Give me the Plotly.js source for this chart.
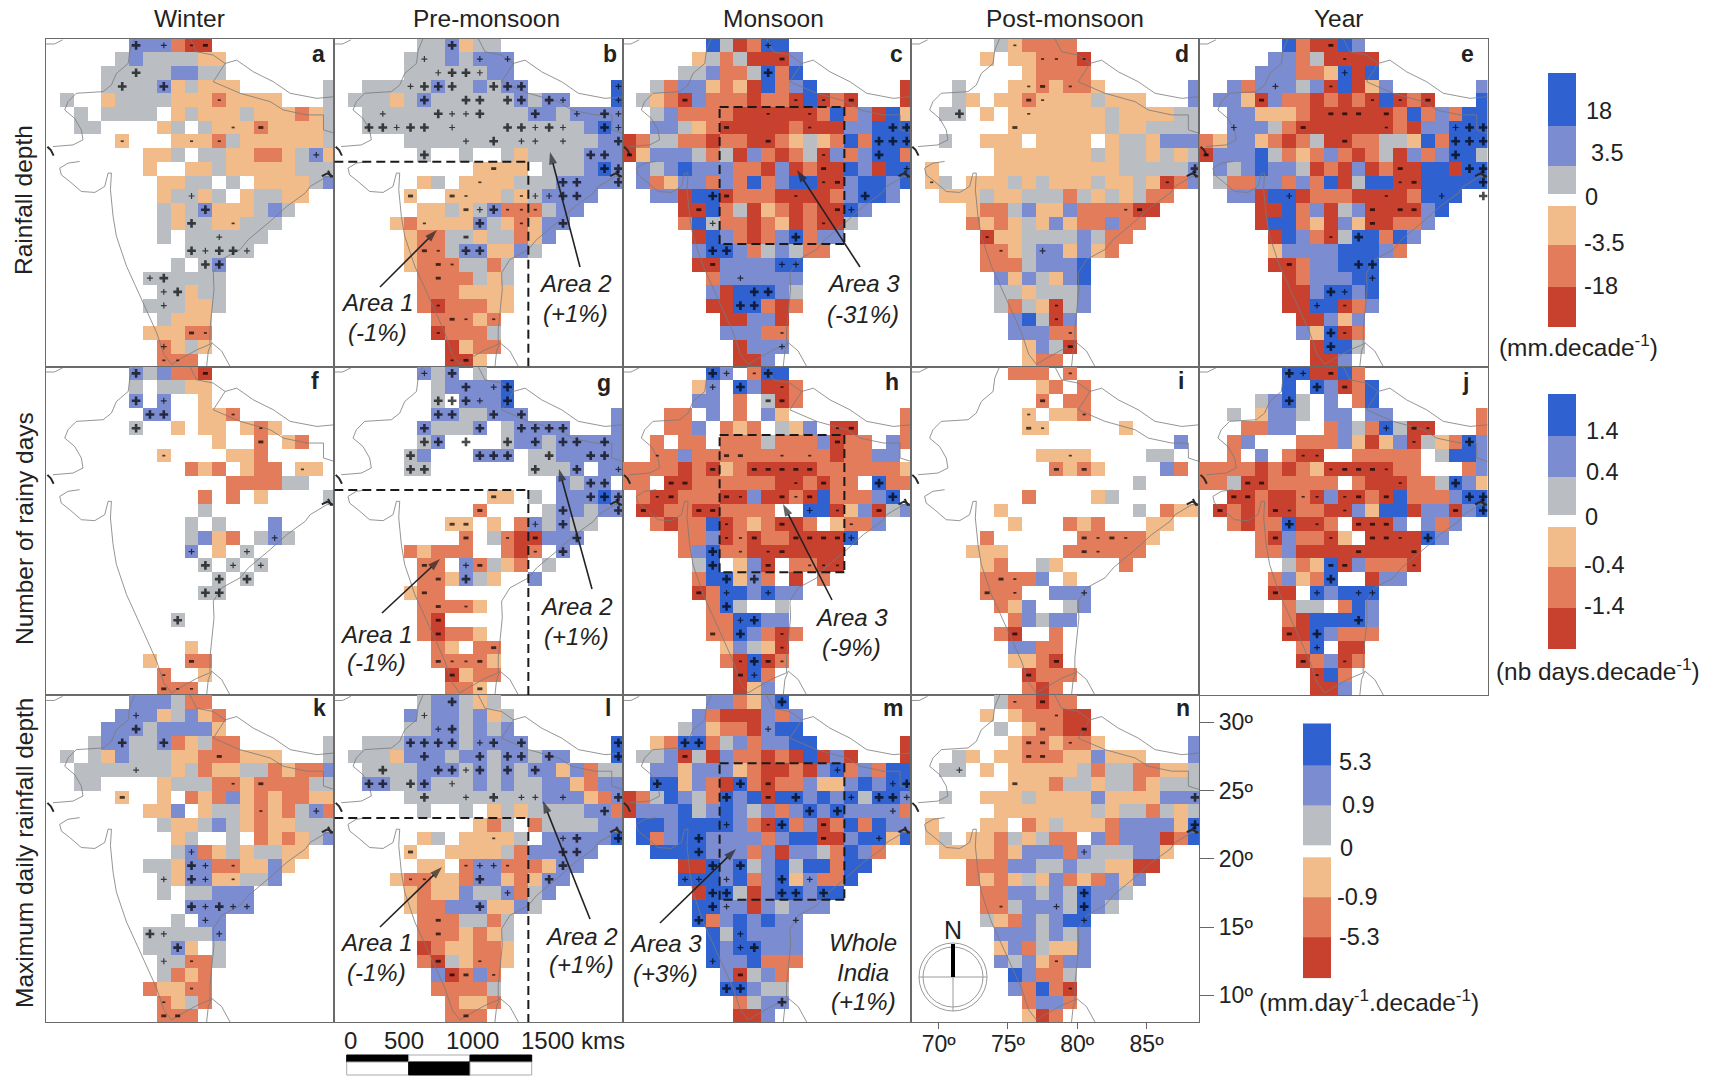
<!DOCTYPE html>
<html><head><meta charset="utf-8">
<script src="https://cdn.plot.ly/plotly-3.0.1.min.js"></script>
<style>html,body{margin:0;padding:0;background:#fff}#c{width:1710px;height:1076px}</style></head>
<body><div id="c"></div>
<script>
// Cell classes: . none, r strong decrease, o decrease, p weak decrease, g weak increase, b increase, B strong increase
var gridA=["......bbborr.........",".....gbggggpp........","....gggggbbgg........","....ggggbpgppp......g",".g..pggggpppopppp...g","..g.gggg.pgpppgpppopg","..gg....pg.gpppoppppg",".....p...pppogppppppg",".......ppg.ggppoopgbp",".......p..ppgpppppggg","........ppgg.g.ppppgb","........pggpg.pggpp..","........gpgbpppgbg...","........gpggppggg....","........g.gggggg.....","..........ggggg......",".........g.gb........",".......gggggg........","........ggpgg........",".......gggppg........","........gppp.........",".......pppoo.........","........opgp.........","........ooo.........."];
var gridB=["......ggbpgg.........",".....gggbgbbb........",".....ggggggbb........","..gggggbggbgbb......B",".gggpgbggggggbgbb...B","..ggggggggggggbbgbbbb","..ggggggggggggggggbBb",".....ggggggggggggggbb","......g..g..gpggggbbb","..........pppp.gggbBb","......pg.ppppgggbbbbb",".....p..ppppgpgbbbb..","......ppgpgbooogbb...","....poppppbgpopbb....",".....pooggpggopb.....",".....poogbbppbg......",".....poooggog........","......oooogpg........","......ooopppp........","......orooopp........",".......ooopo.........",".......rooog.........","........rpoo.........","........rrp.........."];
var gridC=["......BgroBB.........",".....pgogrrrb........","....ggboogBoB........","..gobbpoprBobB......r",".gporboooroorBror...r","..gboooorrrrrroBobrBp","..bbgporrrrrorrrbbBBB","roggoorooorropgpoBoBB".slice(0,21),"rpbbbgogrborogrbobBBo",".bgbBbbboorbrorrBbrBB",".bopbboboBobBBrrbBBbB","..bbrBBrooorrrrobBBb.","....rrBogrpororrBb...","....oBgooroprorrg....",".....rBborobBobb.....",".....bBBbogbgoo......",".....rrbbbbBB........","......obbbbbb........","......brBBBbg........","......rrBBoro........",".......rrbbr.........",".......bbboo.........","........rbbb.........","........rrb.........."];
gridC[7]="roggoor"+"oo"+"rr"+"opgpoBoBBB";
var gridD=["......gpoooo.........",".....p.ppooor........","........poooo........","...g...ppopoop......b","...gp.ppoppppgppp...b","..gg.p.pppppppgppppgg",".......pppppppgppgggg","..g..ppp.pppp.pggpbbb","......pppppppgpggpgpg",".p....pppppppppgggggb",".pg.pppgpgpppgppgprob","..pppgppgggogpgpgoo..","....poogbppboooorr...","....opopgpbpooboo....",".....rppggggbgoo.....",".....oopgbbpbpo......",".....ooogbbbB........","......bpbgpbB........","......ggpgggb........","......gogprgb........",".......bBgrb.........",".......bbboo.........","........pbgr.........","........poo.........."];
var gridE=["......BorrBb.........",".....bbogrrrr........","....bbboopBrB........","..bobbbgbrBrpb......b",".bbprboorororBror...B","..bbpppo"+"rrrrrr"+"oBob"+"oBB","..bbbgor"+"rrrrrr"+"or"+"bbBBB","opbbporogrroogg"+"pBoBBB","rbbbBgopoborogrbobBBg",".bgbBbbgrorbrorrBBrBB",".goobbob"+"oBrg"+"BB"+"rr"+"BBBBB","..bbrBBrooorrrroBBB..","....rrBobrgbrrrrbB...","....rBBoprbprroob....",".....rBborgBBoBb.....",".....pbbbbBBBbo......",".....rrobbBBB........","......robbbBB........","......rrbBBbB........","......rrBBrob........",".......rrbpb.........",".......bpBro.........","........rBBg.........","........rrb.........."];
var gridF=["......bgboor.........","......g.ggpp.........","......b.b..p.........",".......bb..ppo.......","......g..p.pp.pop....","............p..o.po..","........p....ppo.....","..........opo.poo.pp.",".............oooogg..","...........o.o.p....g","...........g.........","..........g.g...b....","..........gbpo.gbg...","..........b.p.g......","...........g.g.g.....","............g.g......","...........gg........",".....................",".........g...........",".....................","..........p..........",".......p..oo.........","........o..p.........","........ooo.........."];
var gridG=["......bgb.g..........",".......gbbbbB........",".......g.bbbB........",".......bbggbbb......b","......bgggb.gbbbb...b","......gb....gbbgbbbbb",".....gb...bbb.ggbbbbb",".....gg.......gggb.bb","................bgbb.","...........pp.g.bbbBb","..........o....gbbgbb","........pp.p.obgbgg..",".........o.gorrbbb...",".....opooo..oro.b....","......oo.bogpo.g.....","......oopbgp..b......",".....poo.............","......oooop..........","......or.............","......oroop..........",".......op.oo.........",".......oooop.........","........rpoo.........","........oop.........."];
var gridH=["......Bb.oBB.........",".....pb.Bbrro........",".....bb.o.gro........","...oo.b.o.bp........o","...oob.opo.gpb.rr...o","..o.oo.ooogooobroo.bo","..oob"+"oooooooooo"+"r"+"oobb.","oooororporrrrroooooop","oo.rr"+"oooooo"+"rr"+"o"+"r"+"oo"+"."+"B"+"oo",".orrooorrbrrorBooobB.",".rroorroooo..BBrpbrgb","..orooBroporro.poob..","....oobroroorrrrB....","....obBoorrrrrrr.....",".....gB.pbr.oorr.....",".....oBBpbo.r.o......",".....roBBbBbb........","......oBg..g.........","......ooBBbb.........","......ooBboro........",".......pbgpr.........",".......orBro.........","........rBo..........","........rpb.........."];
var gridI=[".......ooo.o.........",".........po.o........",".........o.oo........","........p.ppo........","........pp.....p.....","...................b.",".........pppp....gg..","..........opop....bo.","................g....","........o....pg......","......p.........g.opp",".......p...opo...pp..",".....o......ooooop...","....ppp....oooooo....",".....po..gp....o.....",".....oooob.p.........",".....ooo..bbb........","......opb..gb........",".......obgbb.........","......or..o..........",".......bboo..........",".......ppor..........","........rooo.........","........oro.........."];
var gridJ=["......BBrrBo.........","......B.BbroB........","....gbBg.b.oB........","..g.pbbg.bb.bb......o","...oobb..obgoBgrr...o","..ob...ooobprpbrgpoBb","..o.b.orr..ooooo.gBBb","oooororop"+"rrrrr"+"oo"+"..."+"ob","oogrr"+"ooooo"+".o"+"rrr"+"oogBbp","..rrorrorbrrorBooobBB",".ror"+"o"+"rr"+"oo"+"rr"+"bp"+"BB"+"r"+"bb"+"rbB","..orooBrro.rrrb.bob..","....orboorp.rrrrBb...","....oobrrrrrrrrr.....","......gopBrbooor.....",".....obpoB..rbb......",".....rr.BbBBB........","......ogg.oBb........","......orBBBBb........","......rrBbooo........",".......oB.rr.........",".......robro.........","........rBo..........","........rrb.........."];
var gridK=["......bbbgoo.........",".....bbbpgbpo........","....bbbgbbbbp........","...gbbggbopgoo......g",".g.gpbgggppoooppp...g","..gggggggpgoppggopoob","..gg....pgggoopoooogg",".....p..p.opobpopoopp",".......ppb.pggpopogbo","........gppgbgpoppggg",".........pg..g.opopgb",".........gbopgpggpp..",".......ggpbboopp"+"bp...","........gpbbppggb....","........g.ggbbb......","..........bbbbb......",".........g.bb........",".......gggggb........",".......ggbp.g........","........ggoog........","........gopo.........",".......oppoo.........","........opgo.........","........ooo.........."];
var gridL=["......gbbgpg.........",".....bgbbgbpg........",".....ggbbgbgb........","..gggbbbbgbbbb......B",".gggpbbbgbbgbbgbb...B","..ggggbbbgbgbgbbpbogg","..bbggbgggbgbggbbpobb",".....ggggggggggbbbpob","......g..g.pgpggggbbo","..........pog.oggggbb","......pg.ppppg.bbbbbB",".....p..ppppgobbbbb..","......pp.obbooopbb...","....pooppobbpopbb....",".....poppbggbogb.....",".....poobbbppbg......","......ooo"+"gg"+"o"+"g"+"........","......ooopopg........","......roppoop........","......orgpoop........",".......brobo.........",".......oooog.........","........oppo.........","........ooo.........."];
var gridM=["......bbopbB.........",".....borrrbob........","....gbpoorbBB........","..poBBogbobbBB......r",".ggbrgrboororBrbr...r","..bbpbbbporrorbBoboBB","..BBpborBoroobppbBbBB","rogBbgoBbBrBBbBbBgBBb","rbbbBgbBbgbobBbBbbbbo",".BBbBBBBborBobroBoBbb",".BobBBbbbbobBBrrbBBpB","..BBBBbbbobrbbgoBbo..","....rrBbBgbBgBBoBB...","....BBBbBobBpbooB....",".....rBBgrbBBbBB.....",".....BBbbrbgbbb......",".....BobBbBbb........","......BgBbbbb........","......BbBBbbb........","......BbbBooo........",".......brgbo.........",".......BBbgg.........","........ogbb.........","........rrb.........."];
var gridN=["......gooroo.........",".....p.pooorr........","......g.poorr........",".......poopoop......b","...gp.ppoooppbppp...b","..gg.p.pppppgoggoopp"+"g",".......pppoggpggopggg","..g..pppgppppbppppbbb","......pppppppgpggogpg",".p...pp.opgpppobbbbpB",".pg.ppogpgoo.bobbbroB","..ppppopbbbobgggbbp..","....ooobbggbggpprr...","....opopgpbopobpb....",".....oobbgbgBbbg.....",".....oogbbbgBbg......",".....gpobgbBB........","......bbbgbgb........","......pbogppb........","......bgbpobb........",".......Bboog.........",".......boBor.........","........obbo.........","........pro.........."];

// Significance marks: "row,colT"; P large plus, p small plus, M large minus, m small minus
var marksA="0,6P 0,8p 0,10m 0,11M 2,6P 3,5P 3,8P 4,12m 6,15M 6,13m 7,5m 7,10m 7,12m 8,19p 11,10p 12,11P 13,10P 13,13m 14,12p 15,10P 15,11p 15,12P 15,13P 15,14p 16,11P 16,12P 17,7p 17,8P 18,8p 18,9P 19,8p 21,10M 21,11m 22,8p 23,8m 23,9m";
var marksB="0,8P 1,6p 2,8P 1,10p 1,12p 2,7p 2,9P 2,10p 3,5p 3,6P 3,7P 3,8P 3,11P 3,12P 3,13P 3,20p 4,6P 4,9P 4,10P 4,12P 4,13P 4,15P 4,16p 4,20p 5,3p 5,7P 5,8p 5,9p 5,10P 5,14P 5,17p 5,19P 5,20p 6,2P 6,3P 6,4p 6,5P 6,6P 6,8p 6,12P 6,13P 6,14p 6,15P 6,16p 6,19P 6,20p 7,9p 7,11P 7,13p 7,14p 7,16p 7,20P 8,6P 8,18P 8,19P 9,11M 9,20P 9,19P 10,10m 10,16P 10,17P 10,20P 11,5M 11,8M 11,9m 11,13m 11,14p 11,15p 11,16P 11,17P 12,9M 12,10p 12,11P 12,12m 12,13m 12,14m 13,6m 13,10P 13,13m 13,16P 14,9M 15,6M 15,7m 15,9P 15,10P 16,7M 16,8m 17,7M 19,7m 20,8M 20,9m 20,11m 21,7m 23,8m 23,9M";
var marksC="0,10p 1,11M 2,10P 4,4M 4,12m 4,14m 4,16M 5,10m 5,13m 6,7M 6,19P 6,20P 6,13m 7,10M 7,18P 7,19P 7,20P 8,0M 8,14m 8,18P 9,14M 9,20p 10,14m 10,15M 11,6P 11,7M 11,12m 11,17P 12,5M 12,15M 12,16p 13,6p 13,14m 14,12P 15,6P 15,7P 16,6M 16,11p 16,12p 17,8p 18,9P 18,10P 19,8P 19,9P 21,11m 22,11p";
var marksD="0,7m 1,9m 1,10m 1,12m 3,8m 3,9M 3,11m 4,8M 4,9m 5,3P 5,8m 6,7M 9,20P 10,1m 10,18m 12,15m 12,16M 14,5m 15,6m 15,9p 19,10m 20,10m 21,11m 22,11M";
var marksE="0,9M 1,10m 2,10p 3,5p 3,9m 4,4M 4,12m 4,14m 4,16M 5,9M 5,10M 5,11M 5,13M 6,2p 6,7M 6,18p 6,19P 6,20P 6,13m 7,10M 7,18P 7,19P 7,20P 8,0M 8,18P 9,14M 9,19P 9,20P 10,14m 10,15M 10,20P 11,20P 11,6p 11,13m 11,17p 12,12M 12,14M 12,15M 13,12M 14,9m 14,11P 16,6M 16,11P 16,12P 17,12p 18,9P 18,10p 19,8p 19,10m 21,9P 21,10m 22,9P";
var marksF="0,6P 0,11M 2,6P 2,8p 3,7P 3,8P 3,13m 4,6P 4,15m 5,15M 6,8m 7,18m 12,16p 13,10p 13,14p 14,11P 14,13p 14,15p 15,12P 15,14P 16,11P 16,12P 18,9P 21,10M 23,8M 23,9m 23,10m 22,8m";
var marksG="0,6p 0,8P 1,9P 1,11p 1,12P 2,8P 2,7P 2,9P 2,10p 2,12P 3,8P 3,7P 3,11P 3,13P 4,6P 4,10P 4,13P 4,14P 4,15P 4,16P 5,7P 5,9P 5,12P 5,17P 5,19P 5,6P 5,14P 5,16P 6,5P 6,10P 6,11P 6,12P 6,15P 6,18P 6,19P 7,6P 7,5P 7,14P 7,17P 7,20p 8,18P 8,19P 9,11M 9,18P 9,19P 9,20P 10,10M 10,16P 10,20P 11,8M 11,9M 11,14p 11,16P 12,9M 12,12m 12,14M 12,17P 13,14m 13,16P 14,6M 14,9p 14,10M 15,7M 15,9P 16,6M 17,7M 17,9m 18,7M 19,7M 20,11M 21,7M 21,8m 21,9m 21,10M 22,8M 23,10M";
var marksH="0,6P 0,7p 0,9m 0,10P 1,6p 1,8P 1,11m 2,10M 2,11M 4,15m 4,16M 5,15M 6,2m 6,7M 6,8M 6,11m 6,13m 7,6M 7,9M 7,10M 7,11M 7,12M 7,13M 8,3M 8,4M 8,12m 8,14M 8,18P 9,2m 9,3M 9,7M 9,8m 9,11M 9,12m 9,13M 9,19P 10,1M 10,5M 10,6M 10,13p 10,15m 10,18M 11,7m 11,11M 11,16m 12,7m 12,8m 12,9M 12,12M 12,13M 12,14M 12,15M 12,16p 13,6P 13,8m 13,10m 13,11M 14,13m 14,14m 14,15m 14,10M 14,6P 15,7P 15,9P 16,5M 16,7p 16,10p 17,7P 18,8p 18,9P 19,8P 19,6M 19,11m 20,11m 21,8m 21,9P 21,10M 21,11m 22,8M 22,9p";
var marksI="0,11m 2,9M 3,12m 3,8m 4,8M 4,9m 6,11m 7,10M 7,12M 12,12M 12,13m 12,14M 12,15m 13,12M 13,13m 15,6M 15,7m 16,5M 16,7m 16,12p 19,7M 21,10M 22,8M";
var marksJ="0,6P 0,7p 0,9M 1,8P 1,10M 2,6P 4,13p 4,15M 4,16m 5,19P 5,15m 6,7m 6,8m 7,9m 7,10M 7,11M 7,12M 7,13m 8,3M 8,4M 8,14m 8,18P 9,2M 9,3M 9,7m 9,8m 9,10m 9,11M 9,13M 9,19P 9,20P 10,1M 10,5M 10,6m 10,10m 10,18M 10,20P 11,6P 11,8m 11,11M 11,12M 11,13M 12,16P 12,5M 12,9m 12,12M 12,13M 12,14m 13,11M 13,15M 14,9M 14,10M 14,15m 15,9P 16,5M 16,8p 16,11p 16,12p 18,11P 19,6M 19,8P 20,8p 21,7M 21,10m 22,8m";
var marksK="1,6p 2,6P 3,5P 3,8P 4,12M 5,6p 6,13m 6,15M 7,5M 8,15m 8,19p 11,10p 12,10P 12,11p 12,13m 13,8p 13,11p 13,10P 13,13m 15,10P 15,11p 15,12P 15,13p 15,14p 16,11p 17,7P 17,8p 17,12p 18,9P 19,8p 19,10m 21,10m 23,8M 23,9M 22,8m";
var marksL="0,8P 1,6p 2,7p 2,8P 3,5P 3,6P 3,7P 3,8P 3,10p 3,11P 3,13P 3,20P 4,6P 4,10P 4,12P 4,13P 4,15P 4,20P 5,3P 5,7P 5,8P 5,9p 5,10P 5,12P 5,14P 6,2P 6,3P 6,5P 6,6P 6,8p 7,6P 7,9p 7,11P 7,13p 7,14p 7,16p 7,20P 8,19P 10,11m 10,16p 10,17P 10,20P 11,5M 11,16P 11,17P 12,9m 12,10p 12,11p 12,12m 12,16P 13,5m 13,6m 13,10P 13,15P 14,12p 15,10P 16,7M 17,7M 19,7M 19,10m 20,8M 20,9M 20,11m 23,9M";
var marksM="0,11P 2,10p 3,4P 3,5P 4,4M 5,15p 6,2P 6,8P 6,10M 6,19p 6,20P 7,7P 7,10M 7,12P 7,16p 7,18P 7,19P 7,20p 8,13P 8,15P 8,19p 9,7p 9,10m 9,11P 9,14M 10,5P 10,18p 10,14M 11,5P 12,6P 12,8P 13,4p 13,5p 13,7p 13,11P 13,13p 14,6P 14,7P 14,12P 14,14P 14,11P 15,7p 15,6P 16,5P 16,12p 17,8p 18,8p 18,9P 19,6p 20,8M 21,7P 21,8P 22,11P";
var marksN="0,7m 0,9M 1,10m 2,9M 2,12M 3,8M 3,9M 3,11m 4,8M 4,9M 5,3p 6,7M 7,20P 9,20P 11,12p 15,6m 15,10p 14,12P 15,12P 16,12p 19,10m 21,11m";

var panelLetters=["a","b","c","d","e","f","g","h","i","j","k","l","m","n"];
var panelGrids=[gridA,gridB,gridC,gridD,gridE,gridF,gridG,gridH,gridI,gridJ,gridK,gridL,gridM,gridN];
var panelMarks=[marksA,marksB,marksC,marksD,marksE,marksF,marksG,marksH,marksI,marksJ,marksK,marksL,marksM,marksN];
var columnTitles=["Winter","Pre-monsoon","Monsoon","Post-monsoon","Year"];
var rowTitles=["Rainfall depth","Number of rainy days","Maximum daily rainfall depth"];
var lonTicks=[70,75,80,85];
var latTicks=[10,15,20,25,30];

// Country outlines, lon / lat
var outlineLon=[74.4,74.05,73.93,73.08,72.72,72.12,70.19,69.59,69.35,70.07,70.55,70.67,69.95,68.5,null,70.43,69.59,68.99,69.1,69.71,70.55,71.52,72.24,72.48,72.72,72.65,72.84,73.08,73.81,74.41,75.25,75.98,76.5,77.06,77.66,78.87,79.83,79.83,79.95,80.12,80.07,80.67,82,82.6,84.17,85.37,86.7,87.06,88.27,88.8,null,79.59,79.71,79.95,80.67,81.28,null,78.38,78.87,80.07,80.92,81.76,82.96,84.41,85.61,87.54,88.8,null,80.92,80.07,82,84.17,85.13,86.82,88.02,88.02,88.8,null,68,68.6,69.2];
var outlineLat=[32,31.15,30.18,29.45,28.6,28.12,28,27.39,26.78,26.17,25.33,24.6,24.23,24.11,null,23.02,22.9,22.53,22.05,21.56,20.83,20.76,21.2,22.17,22.17,20.96,19,17.56,15.37,14.04,12.22,10.52,8.94,8.2,8.58,9.26,9.67,10.76,11.98,13.67,14.89,15.86,16.59,17.32,18.65,19.74,20.71,21.2,21.93,21.93,null,8.05,9.18,9.79,9.18,8.05,null,32,31.03,30.79,30.18,30.42,29.57,28.84,28,27.63,27.75,null,30.18,28.84,28,27.39,26.78,26.42,26.42,25.33,25.08,null,31.6,31.6,31.9];
var deltaLon=[68.1,68.35,68.55,null,87.9,88.3,88.75,null,88.35,88.6];
var deltaLat=[24.1,23.85,23.45,null,21.95,22.15,21.9,null,22.35,21.85];

// Legends
var legendTicks=[["18","3.5","0","-3.5","-18"],["1.4","0.4","0","-0.4","-1.4"],["5.3","0.9","0","-0.9","-5.3"]];
var legendUnits=["(mm.decade<sup>-1</sup>)","(nb days.decade<sup>-1</sup>)","(mm.day<sup>-1</sup>.decade<sup>-1</sup>)"];
var legendClassOrder=[6,5,4,null,3,2,1];

var W=1710,H=1076;
var colEdges=[46,334.3,622.6,910.9,1199.2,1487.5];
var rowEdges=[38.5,366.5,695,1022];
var classIndex={r:1,o:2,p:3,g:4,b:5,B:6};
var classColors=["#c8412f","#e27c5a","#f2bb8a","#babec3","#7c8cd1","#2f62d0"];
var scale=[];
classColors.forEach(function(c,i){scale.push([i/6,c]);scale.push([(i+1)/6,c]);});
var lons=[],lats=[];
for(var i=0;i<21;i++)lons.push(68.5+i);
for(var j=0;j<24;j++)lats.push(31.5-j);

function ax(n){return n===1?'':String(n);}
function px(x){return x/W;}
function py(y){return 1-y/H;}
var hiddenAxis={showgrid:false,zeroline:false,showline:false,ticks:'',showticklabels:false,fixedrange:true};

var data=[],shapes=[],annotations=[];
var layout={width:W,height:H,margin:{l:0,r:0,t:0,b:0},paper_bgcolor:'#fff',plot_bgcolor:'rgba(0,0,0,0)',showlegend:false,hovermode:false,font:{family:'"Liberation Sans",Arial,sans-serif',color:'#222'}};

function txt(text,x,y,size,o){o=o||{};
  annotations.push(Object.assign({text:text,x:px(x),y:py(y),xref:'paper',yref:'paper',showarrow:false,xanchor:o.anchor||'center',yanchor:'middle',font:{size:size,color:'#222',family:layout.font.family}},o.extra||{}));
}

panelLetters.forEach(function(letter,idx){
  var n=idx+1,c=idx%5,r=Math.floor(idx/5);
  var z=panelGrids[idx].map(function(row){
    return row.padEnd(21,'.').slice(0,21).split('').map(function(ch){return classIndex[ch]||null;});
  });
  var isN=(letter==='n');
  layout['xaxis'+ax(n)]={domain:[px(colEdges[c]),px(colEdges[c+1])],range:[68,88.8],anchor:'y'+ax(n),showgrid:false,zeroline:false,showline:true,mirror:true,linecolor:'#6a6a6a',linewidth:1,
    ticks:isN?'outside':'',ticklen:6,tickcolor:'#666',ticklabelstandoff:isN?-5:0,tickvals:isN?lonTicks:[],ticktext:lonTicks.map(function(v){return v+'º';}),showticklabels:isN,tickfont:{size:23,color:'#222'}};
  layout['yaxis'+ax(n)]={domain:[py(rowEdges[r+1]),py(rowEdges[r])],range:[8.05,32],anchor:'x'+ax(n),side:isN?'right':'left',showgrid:false,zeroline:false,showline:true,mirror:true,linecolor:'#6a6a6a',linewidth:1,
    ticks:isN?'outside':'',ticklen:14,tickcolor:'#666',tickvals:isN?latTicks:[],ticktext:latTicks.map(function(v){return v+'º';}),showticklabels:isN,tickfont:{size:23,color:'#222'}};
  data.push({type:'heatmap',x:lons,y:lats,z:z,xaxis:'x'+ax(n),yaxis:'y'+ax(n),zmin:0.5,zmax:6.5,colorscale:scale,showscale:false,hoverinfo:'skip',zsmooth:false});
  data.push({type:'scatter',mode:'lines',x:outlineLon,y:outlineLat,xaxis:'x'+ax(n),yaxis:'y'+ax(n),line:{color:'#7a7a7a',width:0.8},hoverinfo:'skip',connectgaps:false});
  data.push({type:'scatter',mode:'lines',x:deltaLon,y:deltaLat,xaxis:'x'+ax(n),yaxis:'y'+ax(n),line:{color:'#2a2a2a',width:2},hoverinfo:'skip',connectgaps:false});
  var mx=[],my=[],sym=[],sz=[],lw=[];
  panelMarks[idx].split(' ').forEach(function(t){
    var m=t.match(/(\d+),(\d+)([PpMm])/);
    var rr=+m[1],cc=+m[2],k=m[3];
    mx.push(68.5+cc);my.push(31.5-rr);
    sym.push(k==='P'||k==='p'?'cross-thin':'line-ew');
    sz.push({P:6.2,p:4.2,M:3.6,m:2.2}[k]);
    lw.push({P:2.6,p:1.2,M:2.8,m:1.7}[k]);
  });
  data.push({type:'scatter',mode:'markers',x:mx,y:my,xaxis:'x'+ax(n),yaxis:'y'+ax(n),hoverinfo:'skip',marker:{symbol:sym,size:sz,color:'#000',line:{color:'#000',width:lw}}});
});

// legends: stacked classes with a gap at zero
var legendBoxes=[
 {x:[1548,1576],edges:[73,126,166,194,206,245,287,327]},
 {x:[1548,1576],edges:[394,436,477,515,527,567,608,649]},
 {x:[1303,1331],edges:[723.3,765,805,845.7,857.3,897.7,937.7,978.3]}
];
legendBoxes.forEach(function(b,i){
  var n=15+i;
  var e=b.edges,top=e[0],bot=e[7];
  layout['xaxis'+n]=Object.assign({domain:[px(b.x[0]),px(b.x[1])],range:[0,1],anchor:'y'+n},hiddenAxis);
  layout['yaxis'+n]=Object.assign({domain:[py(bot),py(top)],range:[bot,top],anchor:'x'+n},hiddenAxis);
  data.push({type:'heatmap',x:[0,1],y:e,z:legendClassOrder.map(function(v){return [v];}),xaxis:'x'+n,yaxis:'y'+n,zmin:0.5,zmax:6.5,colorscale:scale,showscale:false,hoverinfo:'skip'});
});

var legTickY=[[111,153,197,243,286],[431,472,517,565,606],[761.7,805,848,897,937]];
var legTickX=[[1584,1589,1583,1582,1582],[1584,1584,1583,1582,1582],[1337,1340,1338,1335,1337]];
legendTicks.forEach(function(ts,i){ts.forEach(function(t,k){txt(t,legTickX[i][k],legTickY[i][k],23.5,{anchor:'left'});});});
txt(legendUnits[0],1578,346,24.4);
txt(legendUnits[1],1598,670,24.4);
txt(legendUnits[2],1369,1001,24.4);

// titles
var titleX=[189,486,773,1065,1339];
columnTitles.forEach(function(t,i){txt(t,titleX[i],18.5,24.5);});
var rowY=[200,529,853];
rowTitles.forEach(function(t,i){txt(t,24,rowY[i],24.5,{extra:{textangle:-90}});});

// letters
var letterPos=[[318,54],[610,54],[896,54],[1182,54],[1467,54],[315,381],[604,383],[892,382],[1181,381],[1465,382],[319,708],[608,708],[893,708],[1183,708]];
panelLetters.forEach(function(l,i){txt('<b>'+l+'</b>',letterPos[i][0],letterPos[i][1],23);});

// dashed study areas
function dash(n,x0,y0,x1,y1){shapes.push({type:'line',xref:'x'+ax(n),yref:'y'+ax(n),x0:x0,y0:y0,x1:x1,y1:y1,layer:'above',line:{color:'#1a1a1a',width:2,dash:'9px,5px'}});}
[2,7,12].forEach(function(n){dash(n,68,23,82,23);dash(n,82,23,82,8.05);});
[3,8,13].forEach(function(n){dash(n,75,27,84,27);dash(n,84,27,84,17);dash(n,84,17,75,17);dash(n,75,17,75,27);});

function it(t){return '<i>'+t+'</i>';}
[["Area 1",377,302],["(-1%)",377,332],["Area 2",575,283],["(+1%)",575,313],["Area 3",863,283],["(-31%)",863,315],
 ["Area 1",376,634],["(-1%)",376,662],["Area 2",576,606],["(+1%)",576,636],["Area 3",851,617],["(-9%)",851,647],
 ["Area 1",376,942],["(-1%)",376,972],["Area 2",581,936],["(+1%)",581,964],["Area 3",665,943],["(+3%)",665,973],
 ["Whole",863,942],["India",863,972],["(+1%)",863,1002]].forEach(function(a){txt(it(a[0]),a[1],a[2],24);});

// arrows on a full-page overlay measured in page pixels
var arrowSegments=[[380,287,437,230],[580,267,550,152],[860,267,797,170],[382,613,440,559],[592,589,559,469],[832,600,783,504],[380,927,442,867],[590,919,543,801],[660,923,736,849]];
layout.xaxis18=Object.assign({domain:[0,1],range:[0,W],anchor:'y18'},hiddenAxis);
layout.yaxis18=Object.assign({domain:[0,1],range:[H,0],anchor:'x18'},hiddenAxis);
arrowSegments.forEach(function(a){
  data.push({type:'scatter',mode:'lines+markers',x:[a[0],a[2]],y:[a[1],a[3]],xaxis:'x18',yaxis:'y18',hoverinfo:'skip',cliponaxis:false,
    line:{color:'#222',width:1.6},marker:{symbol:'arrow',angleref:'previous',size:[0,13],color:'#222',line:{width:0}}});
});

// scale bar
var scaleLabels=[["0",350],["500",404],["1000",472],["1500 kms",573]];
scaleLabels.forEach(function(s){txt(s[0],s[1],1040,24);});
var sb=[346.7,408.7,470,531.7];
function rect(x0,y0,x1,y1,fill,line){shapes.push({type:'rect',xref:'paper',yref:'paper',x0:px(x0),x1:px(x1),y0:py(y0),y1:py(y1),fillcolor:fill,line:{color:line||fill,width:1}});}
for(var s=0;s<3;s++){
  rect(sb[s],1055,sb[s+1],1062,s===1?'#fff':'#000',s===1?'#aaa':'#000');
  rect(sb[s],1062,sb[s+1],1075,s===1?'#000':'#fff',s===1?'#000':'#aaa');
}

// compass
function circle(cx,cy,r){shapes.push({type:'circle',xref:'paper',yref:'paper',x0:px(cx-r),x1:px(cx+r),y0:py(cy+r),y1:py(cy-r),line:{color:'#9a9a9a',width:1},layer:'above'});}
function seg(x0,y0,x1,y1,col,w){shapes.push({type:'line',xref:'paper',yref:'paper',x0:px(x0),x1:px(x1),y0:py(y0),y1:py(y1),line:{color:col,width:w},layer:'above'});}
circle(953,977,34);circle(953,977,30);
seg(919,977,987,977,'#9a9a9a',1);seg(953,977,953,1011,'#9a9a9a',1);
seg(953,977,953,944,'#000',4);
txt('N',953,930,25);

layout.shapes=shapes;layout.annotations=annotations;
Plotly.newPlot('c',data,layout,{staticPlot:true,displayModeBar:false});
</script></body></html>
